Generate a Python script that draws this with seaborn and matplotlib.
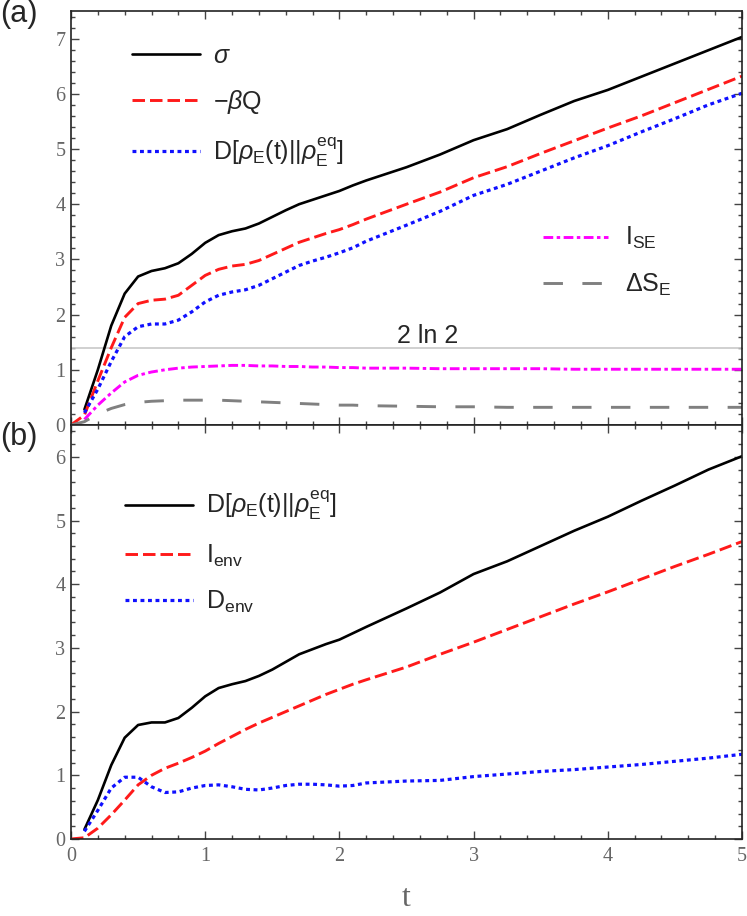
import matplotlib
matplotlib.use("Agg")
import matplotlib.pyplot as plt
from matplotlib.ticker import MultipleLocator
import numpy as np
import seaborn as sns

########
# DATA #
########
t = [0.0, 0.1, 0.2, 0.3, 0.4, 0.5, 0.6, 0.7, 0.8, 0.9, 1.0, 1.1, 1.2, 1.3, 1.4,
     1.5, 1.6, 1.7, 1.8, 1.9, 2.0, 2.1, 2.2, 2.5, 2.75, 3.0, 3.25, 3.5, 3.75,
     4.0, 4.25, 4.5, 4.75, 5.0]
nan = np.nan

# panel (a)
sigma = [nan, 0.28, 1.0, 1.8, 2.38, 2.69, 2.79, 2.84, 2.93, 3.1, 3.3, 3.44, 3.51, 3.56, 3.65,
         3.77, 3.89, 4.0, 4.08, 4.16, 4.24, 4.34, 4.43, 4.67, 4.90, 5.16, 5.36, 5.62, 5.87,
         6.07, 6.31, 6.55, 6.79, 7.03]
minus_beta_q = [0.0, 0.18, 0.8, 1.4, 1.95, 2.2, 2.26, 2.28, 2.35, 2.53, 2.71, 2.82, 2.88, 2.91, 2.98,
                3.09, 3.2, 3.31, 3.39, 3.47, 3.54, 3.63, 3.73, 4.0, 4.22, 4.48, 4.68, 4.92, 5.15,
                5.38, 5.6, 5.84, 6.08, 6.32]
rel_entropy = [nan, 0.22, 0.65, 1.15, 1.6, 1.78, 1.83, 1.83, 1.9, 2.05, 2.23, 2.35, 2.41, 2.45, 2.53,
               2.65, 2.77, 2.89, 2.97, 3.04, 3.12, 3.21, 3.33, 3.62, 3.87, 4.16, 4.36, 4.6, 4.84,
               5.06, 5.31, 5.55, 5.8, 6.01]
i_se = [nan, 0.1, 0.36, 0.58, 0.78, 0.9, 0.96, 1.0, 1.03, 1.05, 1.06, 1.07, 1.08, 1.08, 1.07,
        1.07, 1.06, 1.06, 1.05, 1.05, 1.04, 1.04, 1.03, 1.03, 1.02, 1.02, 1.02, 1.02, 1.01,
        1.01, 1.01, 1.01, 1.01, 1.01]
delta_s_e = [0.0, 0.06, 0.2, 0.3, 0.37, 0.41, 0.43, 0.44, 0.45, 0.45, 0.45, 0.45, 0.44, 0.43, 0.42,
             0.41, 0.40, 0.39, 0.38, 0.37, 0.36, 0.36, 0.35, 0.34, 0.33, 0.33, 0.32, 0.32, 0.32,
             0.32, 0.32, 0.32, 0.32, 0.32]
two_ln_two = 2 * np.log(2)

# panel (b)
d_total = [nan, 0.15, 0.61, 1.16, 1.59, 1.79, 1.83, 1.83, 1.9, 2.06, 2.24, 2.37, 2.43, 2.48, 2.56,
           2.66, 2.78, 2.9, 2.98, 3.06, 3.13, 3.23, 3.33, 3.62, 3.87, 4.16, 4.36, 4.6, 4.84,
           5.06, 5.31, 5.55, 5.8, 6.01]
i_env = [0.0, 0.02, 0.17, 0.38, 0.61, 0.85, 1.0, 1.11, 1.19, 1.28, 1.38, 1.5, 1.61, 1.72, 1.82,
         1.91, 2.0, 2.09, 2.18, 2.27, 2.35, 2.43, 2.5, 2.70, 2.90, 3.09, 3.29, 3.49, 3.69,
         3.88, 4.08, 4.28, 4.47, 4.67]
d_env = [nan, 0.12, 0.45, 0.8, 0.97, 0.97, 0.82, 0.73, 0.74, 0.8, 0.84, 0.85, 0.82, 0.78, 0.77,
         0.8, 0.84, 0.86, 0.86, 0.85, 0.83, 0.84, 0.88, 0.91, 0.92, 0.98, 1.02, 1.06, 1.09,
         1.13, 1.17, 1.22, 1.27, 1.33]

label_d = r"D[$\rho_{\mathrm{E}}$(t)||$\rho_{\mathrm{E}}^{\mathrm{eq}}$]"

#########
# STYLE #
#########
sns.set_style("ticks")
# serif for the tick labels and axis label, sans for the legends
plt.rcParams["font.family"] = ["Liberation Serif", "DejaVu Serif"]
plt.rcParams["mathtext.fontset"] = "custom"
plt.rcParams["mathtext.rm"] = "Liberation Sans"
plt.rcParams["mathtext.it"] = "Liberation Sans:italic"
plt.rcParams["mathtext.bf"] = "Liberation Sans:bold"
plt.rcParams["lines.scale_dashes"] = False

SANS = {"family": "Liberation Sans", "size": 18}

SOLID = "-"
DASHED = (0, (9, 3.6))
DOTTED = (0, (2.8, 2.6))
DASHDOT = (0, (7, 2.5, 2.5, 2.5))
LONGDASH = (0, (14, 14))


def _style_axes(ax, ymax, show_xlabels):
    ax.set_xlim(0, 5)
    ax.set_ylim(0, ymax)
    ax.xaxis.set_major_locator(MultipleLocator(1))
    ax.xaxis.set_minor_locator(MultipleLocator(0.2))
    ax.yaxis.set_major_locator(MultipleLocator(1))
    ax.yaxis.set_minor_locator(MultipleLocator(0.2))
    ax.tick_params(which="both", direction="in", top=True, right=True,
                   color="#444444", width=1.0)
    ax.tick_params(which="major", length=5.5, labelsize=14.5, labelcolor="#666666", pad=4)
    ax.tick_params(which="minor", length=3)
    ax.tick_params(axis="x", labelbottom=show_xlabels, pad=6)
    for spine in ax.spines.values():
        spine.set_linewidth(1.2)
        spine.set_color("#222222")
    ax.set_xlabel("")
    ax.set_ylabel("")


def _line(ax, y, color, ls, lw, label):
    sns.lineplot(x=t, y=y, ax=ax, color=color, linestyle=ls, linewidth=lw, label=label)


def _legend(ax, handles, anchor, handlelength, textpad):
    return ax.legend(handles=handles, loc="center left", bbox_to_anchor=anchor,
                     frameon=False, prop=SANS, handlelength=handlelength,
                     handletextpad=textpad, labelspacing=0.8, borderpad=0,
                     borderaxespad=0)


fig = plt.figure(figsize=(7.47, 9.16), dpi=100)
ax_a = fig.add_axes([71 / 747, 1 - 425 / 916, 671 / 747, 414 / 916])
ax_b = fig.add_axes([71 / 747, 1 - 839 / 916, 671 / 747, 414 / 916])

#############
# PANEL (a) #
#############
ax_a.axhline(two_ln_two, color="#c8c8c8", lw=1.2, zorder=1)
_line(ax_a, sigma, "black", SOLID, 1.9, r"$\sigma$")
_line(ax_a, minus_beta_q, "#ff1a1a", DASHED, 2.1, r"$-\beta$Q")
_line(ax_a, rel_entropy, "#1010ff", DOTTED, 2.3, label_d)
_line(ax_a, i_se, "#ff00ff", DASHDOT, 2.1, r"I$_{\mathrm{SE}}$")
_line(ax_a, delta_s_e, "#808080", LONGDASH, 2.1, r"$\Delta$S$_{\mathrm{E}}$")
ax_a.text(2.66, 1.48, "2 ln 2", ha="center", va="baseline", **SANS)

lines_a = ax_a.get_lines()[1:]
ax_a.get_legend().remove()
leg1 = _legend(ax_a, lines_a[:3], (0.091, 0.770), 2.7, 0.55)
ax_a.add_artist(leg1)
_legend(ax_a, lines_a[3:], (0.703, 0.395), 2.6, 0.7)
_style_axes(ax_a, 7.5, False)

#############
# PANEL (b) #
#############
_line(ax_b, d_total, "black", SOLID, 1.9, label_d)
_line(ax_b, i_env, "#ff1a1a", DASHED, 2.1, r"I$_{\mathrm{env}}$")
_line(ax_b, d_env, "#1010ff", DOTTED, 2.3, r"D$_{\mathrm{env}}$")
ax_b.get_legend().remove()
_legend(ax_b, ax_b.get_lines(), (0.0805, 0.693), 2.7, 0.55)
_style_axes(ax_b, 6.5, True)

fig.text(0.0, 1 - 14 / 916, "(a)", fontsize=22, family="Liberation Sans", ha="left", va="center")
fig.text(0.0, 1 - 437 / 916, "(b)", fontsize=22, family="Liberation Sans", ha="left", va="center")
fig.text(406 / 747, 1 - 906 / 916, "t", fontsize=23, ha="center", va="baseline",
         color="#666666")

fig.savefig("out.png", dpi=100)
